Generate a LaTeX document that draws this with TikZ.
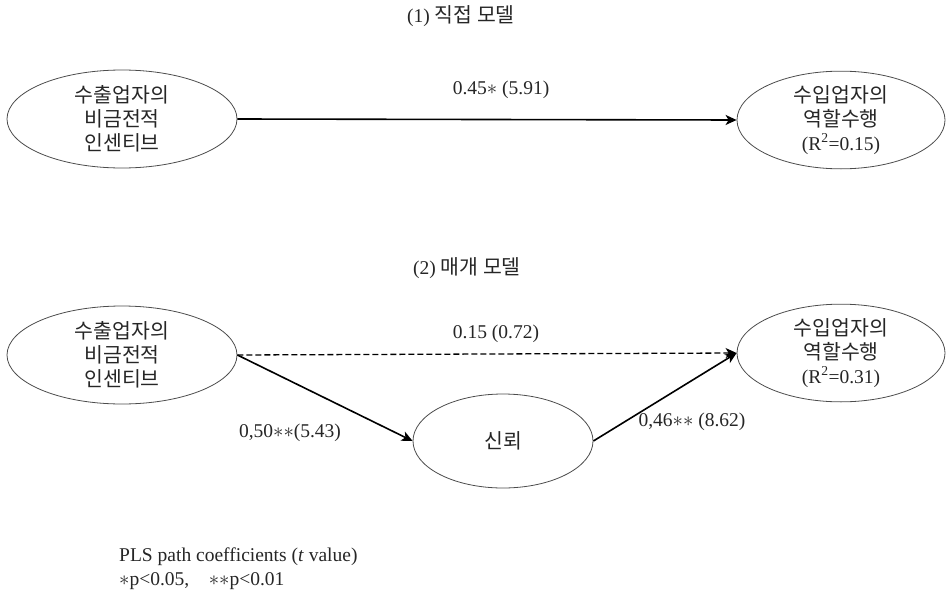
\documentclass[tikz,border=0pt]{standalone}
\usepackage{fontspec}
\setmainfont{Liberation Serif}
\newfontfamily\cjk[Scale=1.05]{Noto Sans CJK KR}
\usetikzlibrary{arrows.meta,shapes.geometric}
\begin{document}
\begin{tikzpicture}[x=1pt,y=-1pt,
  lbl/.style={font=\fontsize{19.5}{24}\selectfont, text=black!85, inner sep=0pt},
  var/.style={ellipse, draw=black!70, line width=0.8pt, inner sep=0pt, align=center,
              font=\fontsize{19.5}{24}\selectfont, text=black!85},
  conn/.style={line width=1.6pt, -{Stealth[length=11pt,width=10pt,inset=3pt]}}]
\useasboundingbox (0,0) rectangle (950,597);
% titles
\node[lbl] (t1) at (461,16) {(1) {\cjk 직접 모델}};
\node[lbl] (t2) at (467,268) {(2) {\cjk 매개 모델}};
% model 1
\node[var, minimum width=230, minimum height=98] (a1) at (122,119)
  {{\cjk 수출업자의}\\{\cjk 비금전적}\\{\cjk 인센티브}};
\node[var, minimum width=208, minimum height=96] (b1) at (841,120)
  {{\cjk 수입업자의}\\{\cjk 역할수행}\\(R\textsuperscript{2}=0.15)};
\draw[conn] (a1.east) -- (b1.west);
\node[lbl] (l1) at (501,90) {0.45$\ast$ (5.91)};
% model 2
\node[var, minimum width=230, minimum height=98] (a2) at (122,355)
  {{\cjk 수출업자의}\\{\cjk 비금전적}\\{\cjk 인센티브}};
\node[var, minimum width=208, minimum height=96] (b2) at (841,353)
  {{\cjk 수입업자의}\\{\cjk 역할수행}\\(R\textsuperscript{2}=0.31)};
\node[var, minimum width=180, minimum height=94] (m) at (503,441) {{\cjk 신뢰}};
\draw[conn, dash pattern=on 6pt off 3pt, line width=1.3pt] (a2.east) -- (b2.west);
\draw[conn] (a2.east) -- (m.west);
\draw[conn] (m.east) -- (b2.west);
\node[lbl] (l2) at (496,334) {0.15 (0.72)};
\node[lbl] (l3) at (290,433) {0,50$\ast\ast$(5.43)};
\node[lbl] (l4) at (692,422) {0,46$\ast\ast$ (8.62)};
% footnote
\node[lbl, anchor=west] (f1) at (119,557) {PLS path coefficients (\textit{t} value)};
\node[lbl, anchor=west] (f2) at (119,581) {$\ast$p<0.05,\quad$\ast\ast$p<0.01};
\end{tikzpicture}
\end{document}
